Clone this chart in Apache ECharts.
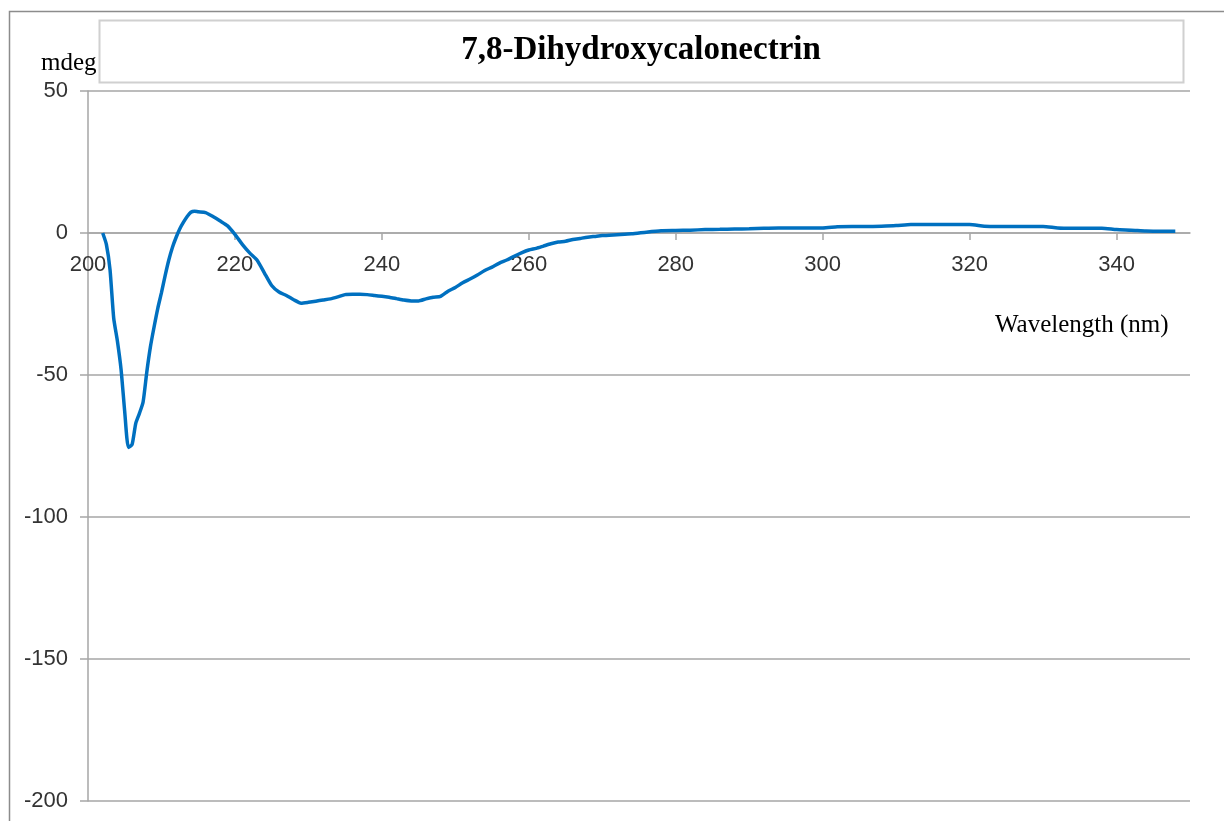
<!DOCTYPE html>
<html>
<head>
<meta charset="utf-8">
<script src="https://cdn.jsdelivr.net/npm/echarts@6.0.0/dist/echarts.min.js"></script>
<style>
html,body{margin:0;padding:0;background:#fff;}
#chart{width:1224px;height:821px;}
</style>
</head>
<body>
<div id="chart"></div>
<script>
const wavelength = [202,202.5,203,203.5,204,204.5,205,205.5,206,206.5,207,207.5,208,208.5,209,209.5,210,210.5,211,211.5,212,212.5,213,213.5,214,214.5,215,216,217,218,219,220,221,222,223,224,225,226,227,228,229,230,231,232,233,234,235,236,237,238,239,240,241,242,243,244,245,246,247,248,249,250,251,252,253,254,255,256,257,258,259,260,261,262,263,264,265,266,267,268,269,270,272,274,276,278,280,282,284,286,288,290,292,294,296,298,300,302,304,306,308,310,312,314,316,318,320,322,324,326,328,330,332,334,336,338,340,342,344,346,348];
const mdeg = [0,-4,-13,-30,-38,-48,-63,-75.5,-74.5,-67,-63.5,-59.5,-49,-40,-33,-26.5,-21,-15,-9.5,-5,-1.5,1.5,3.8,5.8,7.3,7.7,7.5,7.2,5.8,4.2,2.5,-0.5,-4,-7,-9.5,-14,-18.5,-20.8,-22,-23.5,-24.7,-24.4,-24,-23.6,-23.2,-22.5,-21.7,-21.6,-21.6,-21.7,-22,-22.3,-22.6,-23.1,-23.6,-23.9,-23.9,-23.2,-22.6,-22.3,-20.5,-19.2,-17.5,-16.2,-14.8,-13.2,-12,-10.6,-9.5,-8.2,-7,-6,-5.4,-4.6,-3.8,-3.2,-2.9,-2.3,-1.9,-1.5,-1.2,-0.9,-0.6,-0.3,0.3,0.8,0.9,1.0,1.2,1.3,1.4,1.5,1.7,1.8,1.8,1.8,1.8,2.2,2.3,2.3,2.4,2.6,3.0,3.0,3.0,3.0,3.0,2.4,2.3,2.3,2.3,2.3,1.8,1.7,1.7,1.7,1.2,1.0,0.7,0.6,0.6];
const xTickLabels = [200,220,240,260,280,300,320,340];
const xTickMarks = [220,240,260,280,300,320,340];
const yTicks = [-200,-150,-100,-50,0,50];
const titleText = '7,8-Dihydroxycalonectrin';
const yName = 'mdeg';
const xName = 'Wavelength (nm)';

const points = wavelength.map((w, i) => [w, mdeg[i]]);
const chart = echarts.init(document.getElementById('chart'), null, {renderer: 'canvas'});
const gridColor = '#a6a6a6';
const gridTop = 91, gridBottom = 20, gridH = 821 - gridTop - gridBottom;
const yMin = -200, yMax = 50;
// shift the x axis from the bottom edge up to the zero line
const zeroOffset = -gridH * (0 - yMin) / (yMax - yMin);
chart.setOption({
  backgroundColor: '#fff',
  animation: false,
  grid: {left: 88, right: 34, top: gridTop, bottom: gridBottom, containLabel: false, outerBoundsMode: 'none'},
  xAxis: {
    type: 'value', min: 200, max: 350, interval: 20, position: 'bottom', offset: zeroOffset,
    axisLine: {onZero: false, lineStyle: {color: gridColor, width: 1.5}},
    axisTick: {show: true, length: 7, inside: false, customValues: xTickMarks, lineStyle: {color: gridColor, width: 1.5}},
    axisLabel: {customValues: xTickLabels, margin: 21, fontFamily: 'Liberation Sans', fontSize: 22, color: '#333'},
    splitLine: {show: false}
  },
  yAxis: {
    type: 'value', min: yMin, max: yMax, interval: 50,
    axisLine: {show: true, onZero: false, lineStyle: {color: gridColor, width: 1.5}},
    axisTick: {show: true, length: 8, inside: false, lineStyle: {color: gridColor, width: 1.5}},
    axisLabel: {margin: 20, fontFamily: 'Liberation Sans', fontSize: 22, color: '#333',
      customValues: yTicks},
    splitLine: {show: true, lineStyle: {color: gridColor, width: 1.5}}
  },
  graphic: [
    {type: 'polyline', shape: {points: [[9.5, 821], [9.5, 11.5], [1224, 11.5]]}, style: {stroke: '#8c8c8c', lineWidth: 1.5, fill: null}, silent: true},
    {type: 'rect', shape: {x: 99.5, y: 20.5, width: 1084, height: 62}, style: {stroke: '#d0d0d0', lineWidth: 2, fill: '#fff'}, silent: true},
    {type: 'text', x: 641, y: 50, style: {text: titleText, font: 'bold 33px "Liberation Serif"', fill: '#000', align: 'center', verticalAlign: 'middle'}},
    {type: 'text', x: 41, y: 63, style: {text: yName, font: '25px "Liberation Serif"', fill: '#000', align: 'left', verticalAlign: 'middle'}},
    {type: 'text', x: 995, y: 325, style: {text: xName, font: '25px "Liberation Serif"', fill: '#000', align: 'left', verticalAlign: 'middle'}}
  ],
  series: [{
    type: 'line', data: points, showSymbol: false, smooth: 0.2,
    lineStyle: {color: '#0070C0', width: 3.5}, z: 5
  }]
});
</script>
</body>
</html>
